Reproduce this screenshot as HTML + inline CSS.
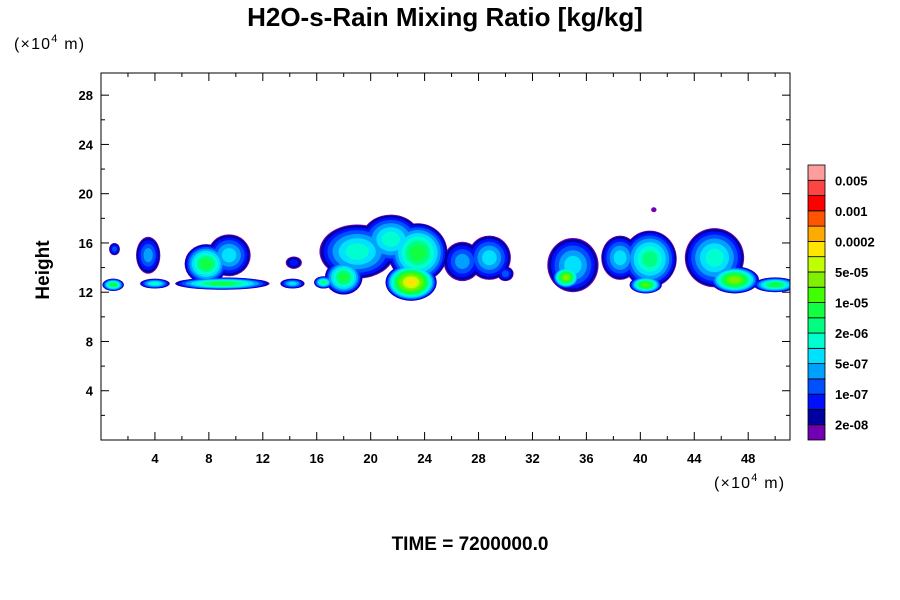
<!DOCTYPE html>
<html><head><meta charset="utf-8"><style>
body{margin:0;background:#fff;width:900px;height:600px;overflow:hidden;font-family:"Liberation Sans",sans-serif}
svg{display:block}
</style></head><body>
<svg id="c" width="900" height="600" xmlns="http://www.w3.org/2000/svg">
<text x="445" y="26" text-anchor="middle" font-size="26" font-weight="bold">H2O-s-Rain Mixing Ratio [kg/kg]</text>
<text x="14" y="49" font-size="16" letter-spacing="1.2">(×10<tspan dy="-7" font-size="11">4</tspan><tspan dy="7"> m)</tspan></text>
<text x="714" y="488" font-size="16" letter-spacing="1.2">(×10<tspan dy="-7" font-size="11">4</tspan><tspan dy="7"> m)</tspan></text>
<text x="49" y="270" font-size="19" font-weight="bold" text-anchor="middle" transform="rotate(-90 49 270)">Height</text>
<text x="470" y="550" font-size="19" font-weight="bold" text-anchor="middle">TIME = 7200000.0</text>
<defs><clipPath id="pc"><rect x="101" y="73" width="689" height="367"/></clipPath></defs>
<g id="field" clip-path="url(#pc)"></g>
<g id="axes"></g>
<g id="cbar"></g>
</svg>
<script>
const colors=["#7000b0","#0000a0","#0010ff","#0050ff","#00a0ff","#00e0ff","#00ffd0","#00ff80","#10ff40","#40ff00","#80f000","#bfff00","#ffe600","#ffaa00","#ff5500","#ff0000","#ff4444","#ff9c9c"];
const cbLabels=["2e-08","1e-07","5e-07","2e-06","1e-05","5e-05","0.0002","0.001","0.005"];
const xTicks=[4,8,12,16,20,24,28,32,36,40,44,48];
const yTicks=[4,8,12,16,20,24,28];
// cloud cells: center x (1e4 m), center height, x radius, y radius, peak level
const cellX=[1.0,0.9,3.5,4.0,7.8,9.5,9.0,14.3,14.2,16.5,19.0,21.5,23.5,18.0,23.0,26.8,28.8,30.0,35.0,34.5,38.5,40.7,40.4,45.5,47.0,50.0,41.0];
const cellY=[15.5,12.6,15.0,12.7,14.3,15.0,12.7,14.4,12.7,12.8,15.3,16.3,15.2,13.2,12.8,14.5,14.8,13.5,14.2,13.2,14.8,14.7,12.6,14.8,13.0,12.6,18.7];
const cellRX=[0.4,0.8,0.9,1.1,1.6,1.6,3.5,0.6,0.9,0.7,2.8,2.2,2.2,1.4,1.9,1.4,1.6,0.6,1.9,1.0,1.4,2.0,1.2,2.2,1.8,1.6,0.2];
const cellRY=[0.5,0.5,1.5,0.4,1.6,1.7,0.5,0.5,0.4,0.5,2.2,2.0,2.4,1.4,1.5,1.6,1.8,0.6,2.2,0.9,1.8,2.3,0.7,2.4,1.1,0.6,0.2];
const cellPeak=[3,8,4,6,8,5,8,2,5,7,6,6,8,8,12,4,5,3,5,10,5,7,9,6,10,8,0];
const X0=101,X1=790,Y0=73,Y1=440,XMAX=51.1,YMAX=29.8;
const sx=v=>X0+v/XMAX*(X1-X0), sy=v=>Y1-v/YMAX*(Y1-Y0);
const NS="http://www.w3.org/2000/svg";
function mk(t,a,p){const e=document.createElementNS(NS,t);for(const k in a)e.setAttribute(k,a[k]);p.appendChild(e);return e;}
const field=document.getElementById('field');
const maxP=Math.max(...cellPeak);
for(let lvl=0;lvl<=maxP;lvl++){
  cellX.forEach((cx,i)=>{
    const P=cellPeak[i]; if(lvl>P)return;
    const s=1-0.9*Math.pow(lvl/(P+1),1.7);
    const e=mk('ellipse',{cx:sx(cx),cy:sy(cellY[i]),rx:cellRX[i]*s*(X1-X0)/XMAX,ry:cellRY[i]*s*(Y1-Y0)/YMAX,fill:colors[lvl]},field);
    
    
  });
}
const ax=document.getElementById('axes');
const fr=mk('rect',{x:X0,y:Y0,width:X1-X0,height:Y1-Y0,fill:'none',stroke:'#000','stroke-width':1},ax);


for(let v=2;v<XMAX;v+=2){const L=v%4===0?8:4;
  mk('line',{x1:sx(v),x2:sx(v),y1:Y1,y2:Y1-L,stroke:'#000'},ax);
  mk('line',{x1:sx(v),x2:sx(v),y1:Y0,y2:Y0+L,stroke:'#000'},ax);}
for(let v=2;v<YMAX;v+=2){const L=v%4===0?8:4;
  mk('line',{x1:X0,x2:X0+L,y1:sy(v),y2:sy(v),stroke:'#000'},ax);
  mk('line',{x1:X1,x2:X1-L,y1:sy(v),y2:sy(v),stroke:'#000'},ax);}
xTicks.forEach(v=>{const t=mk('text',{x:sx(v),y:Y1+23,'text-anchor':'middle','font-size':13,'font-weight':'bold'},ax);t.textContent=v;
  
  });
yTicks.forEach(v=>{const t=mk('text',{x:X0-8,y:sy(v)+5,'text-anchor':'end','font-size':13,'font-weight':'bold'},ax);t.textContent=v;
  
  });
const cb=document.getElementById('cbar');
const CB0=165,CBH=275/colors.length;
colors.forEach((c,i)=>{const r=mk('rect',{x:808,y:CB0+(colors.length-1-i)*CBH,width:17,height:CBH,fill:c,stroke:'#000','stroke-width':0.8},cb);
  
  });
cbLabels.forEach((l,j)=>{const idx=2*j+1;const y=CB0+(colors.length-idx)*CBH;
  const t=mk('text',{x:835,y:y+5,'font-size':13,'font-weight':'bold'},cb);t.textContent=l;
  
  });
</script>
</body></html>
